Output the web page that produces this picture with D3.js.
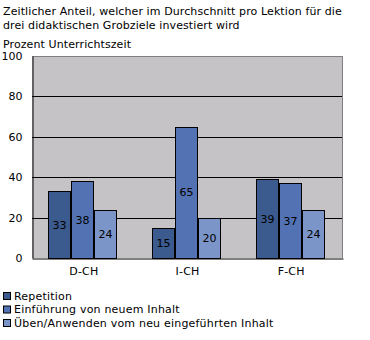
<!DOCTYPE html>
<html>
<head>
<meta charset="utf-8">
<script src="https://cdn.jsdelivr.net/npm/d3@7"></script>
<style>
  html, body { margin: 0; padding: 0; background: #fff; }
  svg { display: block; font-family: "DejaVu Sans", Verdana, sans-serif; }
</style>
</head>
<body>
<svg id="chart" width="370" height="340"></svg>
<script>
const categories = ["D-CH", "I-CH", "F-CH"];
const seriesNames = [
  "Repetition",
  "Einführung von neuem Inhalt",
  "Üben/Anwenden vom neu eingeführten Inhalt"
];
const repetition = [33, 15, 39];
const einfuehrung = [38, 65, 37];
const ueben = [24, 20, 24];
const yTicks = [0, 20, 40, 60, 80, 100];
const colors = ["#3b5a8e", "#5372b4", "#7b95c9"];

const titleLines = [
  "Zeitlicher Anteil, welcher im Durchschnitt pro Lektion für die",
  "drei didaktischen Grobziele investiert wird"
];
const yTitle = "Prozent Unterrichtszeit";

const seriesValues = [repetition, einfuehrung, ueben];

const svg = d3.select("#chart");
const plot = { left: 32, right: 343, top: 56, bottom: 258 };
const groupWidth = 68;

const x0 = d3.scaleBand().domain(categories).range([plot.left, plot.right]).padding(0);
const x1 = d3.scaleBand().domain(d3.range(seriesNames.length))
  .range([0, groupWidth]).paddingInner(1 / 23);
const y = d3.scaleLinear().domain([0, 100]).range([plot.bottom, plot.top]);

// title
svg.append("g").selectAll("text").data(titleLines).join("text")
  .attr("x", 3).attr("y", (d, i) => 15 + i * 14)
  .attr("font-size", 11).attr("letter-spacing", 0.1).attr("fill", "#000").text(d => d);

svg.append("text").attr("x", 3).attr("y", 48)
  .attr("font-size", 11).attr("letter-spacing", 0.1).attr("fill", "#000").text(yTitle);

// plot background
svg.append("rect")
  .attr("x", plot.left).attr("y", plot.top)
  .attr("width", plot.right - plot.left).attr("height", plot.bottom - plot.top)
  .attr("fill", "#c5c3c6");

// gridlines
svg.append("g").selectAll("line").data(yTicks.filter(t => t > 0 && t < 100)).join("line")
  .attr("x1", plot.left).attr("x2", plot.right)
  .attr("y1", d => Math.round(y(d)) + 0.5).attr("y2", d => Math.round(y(d)) + 0.5)
  .attr("stroke", "#000").attr("stroke-width", 1);

// top and right frame
svg.append("path")
  .attr("d", `M${plot.left},${plot.top + 0.5}H${plot.right - 0.5}V${plot.bottom}`)
  .attr("fill", "none").attr("stroke", "#808080").attr("stroke-width", 1);

// bars
const groups = svg.append("g").selectAll("g").data(categories).join("g")
  .attr("transform", c => `translate(${Math.round(x0(c) + (x0.bandwidth() - groupWidth) / 2 - 1.5)},0)`);

groups.each(function(c, ci) {
  const g = d3.select(this);
  seriesValues.forEach((vals, si) => {
    const v = vals[ci];
    const bx = Math.round(x1(si)) + 0.5;
    const bw = Math.round(x1.bandwidth());
    g.append("rect")
      .attr("x", bx).attr("y", Math.round(y(v)) + 0.5)
      .attr("width", bw).attr("height", Math.round(y(0)) - Math.round(y(v)))
      .attr("fill", colors[si]).attr("stroke", "#000").attr("stroke-width", 1);
    g.append("text")
      .attr("x", bx + bw / 2).attr("y", (y(v) + y(0)) / 2)
      .attr("dy", "0.36em").attr("text-anchor", "middle")
      .attr("font-size", 11).attr("fill", "#000").text(v);
  });
});

// y axis
const yAxis = svg.append("g").attr("transform", `translate(${plot.left + 0.5},0)`)
  .call(d3.axisLeft(y).tickValues(yTicks).tickSize(0).tickPadding(10));
yAxis.select(".domain").attr("stroke", "#000");
yAxis.selectAll("text").attr("font-size", 11).attr("fill", "#000")
  .attr("font-family", "DejaVu Sans, Verdana, sans-serif");

// x axis
const xAxis = svg.append("g").attr("transform", `translate(0,${plot.bottom + 0.5})`)
  .call(d3.axisBottom(x0).tickSize(0).tickPadding(9));
xAxis.select(".domain").attr("stroke", "#000");
xAxis.selectAll("text").attr("font-size", 11).attr("fill", "#000")
  .attr("letter-spacing", 0.2)
  .attr("font-family", "DejaVu Sans, Verdana, sans-serif");

// legend
const legend = svg.append("g").selectAll("g").data(seriesNames).join("g")
  .attr("transform", (d, i) => `translate(3,${292 + i * 13.5})`);
legend.append("rect").attr("x", 0.5).attr("y", 0.5).attr("width", 7).attr("height", 7)
  .attr("fill", (d, i) => colors[i]).attr("stroke", "#000").attr("stroke-width", 1);
legend.append("text").attr("x", 11).attr("y", 4).attr("dy", "0.36em")
  .attr("font-size", 11).attr("letter-spacing", 0.2).attr("fill", "#000").text(d => d);
</script>
</body>
</html>
